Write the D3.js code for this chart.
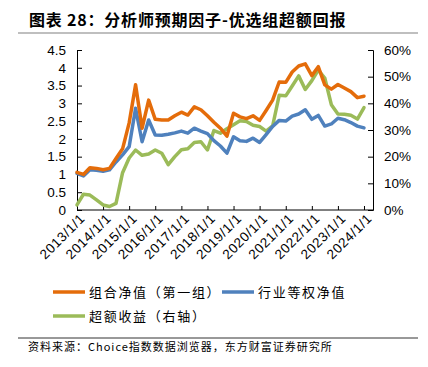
<!DOCTYPE html>
<html>
<head>
<meta charset="utf-8">
<script src="https://cdn.jsdelivr.net/npm/d3@7"></script>
<style>
  body { margin: 0; background: #fff; }
  svg { display: block; font-family: "Liberation Sans", Arial, sans-serif; }
  .cjk { font-family: "Noto Sans CJK SC", sans-serif; }
  .axis path, .axis line { stroke: #000; }
  .axis text { fill: #000; }
</style>
</head>
<body>
<div id="chart"></div>
<script>
  // ---------------- //
 // Data (quarterly) //
// ---------------- //
var dates = [
  "2013/1/1", "2013/4/1", "2013/7/1", "2013/10/1",
  "2014/1/1", "2014/4/1", "2014/7/1", "2014/10/1",
  "2015/1/1", "2015/4/1", "2015/7/1", "2015/10/1",
  "2016/1/1", "2016/4/1", "2016/7/1", "2016/10/1",
  "2017/1/1", "2017/4/1", "2017/7/1", "2017/10/1",
  "2018/1/1", "2018/4/1", "2018/7/1", "2018/10/1",
  "2019/1/1", "2019/4/1", "2019/7/1", "2019/10/1",
  "2020/1/1", "2020/4/1", "2020/7/1", "2020/10/1",
  "2021/1/1", "2021/4/1", "2021/7/1", "2021/10/1",
  "2022/1/1", "2022/4/1", "2022/7/1", "2022/10/1",
  "2023/1/1", "2023/4/1", "2023/7/1", "2023/10/1",
  "2024/1/1"
];

// 组合净值（第一组）
var portfolioNav = [
  1.06, 1.00, 1.19, 1.17, 1.13, 1.17, 1.45, 1.72, 2.45, 3.52,
  2.30, 3.09, 2.55, 2.53, 2.53, 2.65, 2.75, 2.67, 2.90, 2.82,
  2.65, 2.47, 2.30, 2.08, 2.72, 2.62, 2.57, 2.65, 2.52, 2.80,
  3.09, 3.60, 3.59, 3.88, 4.05, 4.11, 3.78, 4.03, 3.52, 3.40,
  3.53, 3.43, 3.33, 3.16, 3.20
];

// 行业等权净值
var industryNav = [
  1.03, 0.96, 1.13, 1.12, 1.09, 1.13, 1.35, 1.55, 1.78, 2.86,
  1.92, 2.53, 2.11, 2.10, 2.13, 2.17, 2.22, 2.16, 2.30, 2.22,
  2.15, 1.95, 1.80, 1.60, 2.06, 1.95, 1.93, 2.02, 1.90, 2.12,
  2.35, 2.52, 2.50, 2.64, 2.70, 2.82, 2.55, 2.66, 2.36, 2.42,
  2.58, 2.54, 2.46, 2.36, 2.31
];

// 超额收益（右轴）
var excessReturn = [
  0.019, 0.059, 0.056, 0.038, 0.019, 0.013, 0.025, 0.140, 0.195, 0.225,
  0.205, 0.210, 0.225, 0.213, 0.170, 0.200, 0.226, 0.230, 0.253, 0.256,
  0.225, 0.298, 0.288, 0.305, 0.320, 0.335, 0.332, 0.318, 0.313, 0.296,
  0.315, 0.430, 0.428, 0.465, 0.503, 0.452, 0.485, 0.525, 0.495, 0.395,
  0.360, 0.359, 0.355, 0.341, 0.384
];

var leftTicks = [0, 0.5, 1, 1.5, 2, 2.5, 3, 3.5, 4, 4.5];
var rightTicks = [0, 0.1, 0.2, 0.3, 0.4, 0.5, 0.6];
var yearTicks = ["2013/1/1", "2014/1/1", "2015/1/1", "2016/1/1", "2017/1/1", "2018/1/1",
  "2019/1/1", "2020/1/1", "2021/1/1", "2022/1/1", "2023/1/1", "2024/1/1"];

var seriesNames = ["组合净值（第一组）", "行业等权净值", "超额收益（右轴）"];
var seriesColors = ["#E46C0A", "#4F81BD", "#9BBB59"];

  // ------------ //
 // Set up chart //
// ------------ //
var svgWidth = 428;
var svgHeight = 367;

var plot = { left: 77, right: 373, top: 50, bottom: 210 };

var parseDate = d3.timeParse("%Y/%m/%d");

var svg = d3.select("#chart")
  .append("svg")
  .attr("width", svgWidth)
  .attr("height", svgHeight);

svg.append("rect")
  .attr("width", svgWidth)
  .attr("height", svgHeight)
  .attr("fill", "#fff");

  // ------ //
 // Scales //
// ------ //
var xTime = d3.scaleTime()
  .domain([parseDate("2013/1/1"), parseDate("2024/5/6")])
  .range([plot.left, plot.right]);

var yLeft = d3.scaleLinear()
  .domain([0, 4.5])
  .range([plot.bottom, plot.top]);

var yRight = d3.scaleLinear()
  .domain([0, 0.6])
  .range([plot.bottom, plot.top]);

  // ----- //
 // Title //
// ----- //
svg.append("text")
  .attr("class", "cjk")
  .attr("x", 29)
  .attr("y", 26)
  .attr("font-size", 16)
  .attr("font-weight", "bold")
  .attr("letter-spacing", 0.8)
  .text("图表 28：分析师预期因子-优选组超额回报");

svg.append("line")
  .attr("x1", 18).attr("x2", 418)
  .attr("y1", 33).attr("y2", 33)
  .attr("stroke", "#808080")
  .attr("stroke-width", 1.2);

  // ---- //
 // Axes //
// ---- //
var leftAxis = svg.append("g")
  .attr("class", "axis")
  .attr("transform", `translate(${plot.left}, 0)`)
  .call(d3.axisLeft(yLeft).tickValues(leftTicks).tickSize(-5).tickPadding(11)
    .tickFormat(d3.format("")));
leftAxis.selectAll("text").attr("font-size", 13.5);

var rightAxis = svg.append("g")
  .attr("class", "axis")
  .attr("transform", `translate(${plot.right}, 0)`)
  .call(d3.axisRight(yRight).tickValues(rightTicks).tickSize(-5).tickPadding(11)
    .tickFormat(d3.format(".0%")));
rightAxis.selectAll("text").attr("font-size", 13.5);

var bottomAxis = svg.append("g")
  .attr("class", "axis")
  .attr("transform", `translate(0, ${plot.bottom})`)
  .call(d3.axisBottom(xTime).tickValues(yearTicks.map(parseDate)).tickSize(-4)
    .tickFormat(d3.timeFormat("%Y/%-m/%-d")));
bottomAxis.selectAll("path.domain").attr("d", `M${plot.left},0H${plot.right}`);
bottomAxis.selectAll("text")
  .attr("font-size", 13.5)
  .attr("letter-spacing", 0.6)
  .attr("text-anchor", "end")
  .attr("transform", "translate(5, 6) rotate(-45)")
  .attr("dy", "0.35em")
  .attr("y", 0)
  .attr("x", 0);

  // ----- //
 // Lines //
// ----- //
var rows = dates.map(function(d, i) {
  return {
    date: parseDate(d),
    portfolio: portfolioNav[i],
    industry: industryNav[i],
    excess: excessReturn[i]
  };
});

var lineLeft = function(key) {
  return d3.line()
    .x(d => xTime(d.date))
    .y(d => yLeft(d[key]));
};

var lineRight = d3.line()
  .x(d => xTime(d.date))
  .y(d => yRight(d.excess));

var lineGroup = svg.append("g")
  .attr("fill", "none")
  .attr("stroke-width", 3.5)
  .attr("stroke-linejoin", "round")
  .attr("stroke-linecap", "round");

lineGroup.append("path")
  .attr("d", lineRight(rows))
  .attr("stroke", seriesColors[2]);

lineGroup.append("path")
  .attr("d", lineLeft("industry")(rows))
  .attr("stroke", seriesColors[1]);

lineGroup.append("path")
  .attr("d", lineLeft("portfolio")(rows))
  .attr("stroke", seriesColors[0]);

  // ------ //
 // Legend //
// ------ //
var legendPos = [[53, 292], [222, 292], [53, 316]];

var legend = svg.append("g")
  .selectAll("g")
  .data(seriesNames)
  .enter()
  .append("g")
  .attr("transform", (d, i) => `translate(${legendPos[i][0]}, ${legendPos[i][1]})`);

legend.append("line")
  .attr("x1", 0).attr("x2", 32)
  .attr("stroke", (d, i) => seriesColors[i])
  .attr("stroke-width", 3.5);

legend.append("text")
  .attr("class", "cjk")
  .attr("x", 36)
  .attr("y", 5)
  .attr("font-size", 13)
  .attr("letter-spacing", 1.7)
  .text(d => d);

  // ------ //
 // Source //
// ------ //
svg.append("line")
  .attr("x1", 18).attr("x2", 418)
  .attr("y1", 338).attr("y2", 338)
  .attr("stroke", "#333")
  .attr("stroke-width", 1);

svg.append("text")
  .attr("class", "cjk")
  .attr("x", 28)
  .attr("y", 351)
  .attr("font-size", 11)
  .attr("letter-spacing", 1)
  .text("资料来源：Choice指数数据浏览器，东方财富证券研究所");
</script>
</body>
</html>
